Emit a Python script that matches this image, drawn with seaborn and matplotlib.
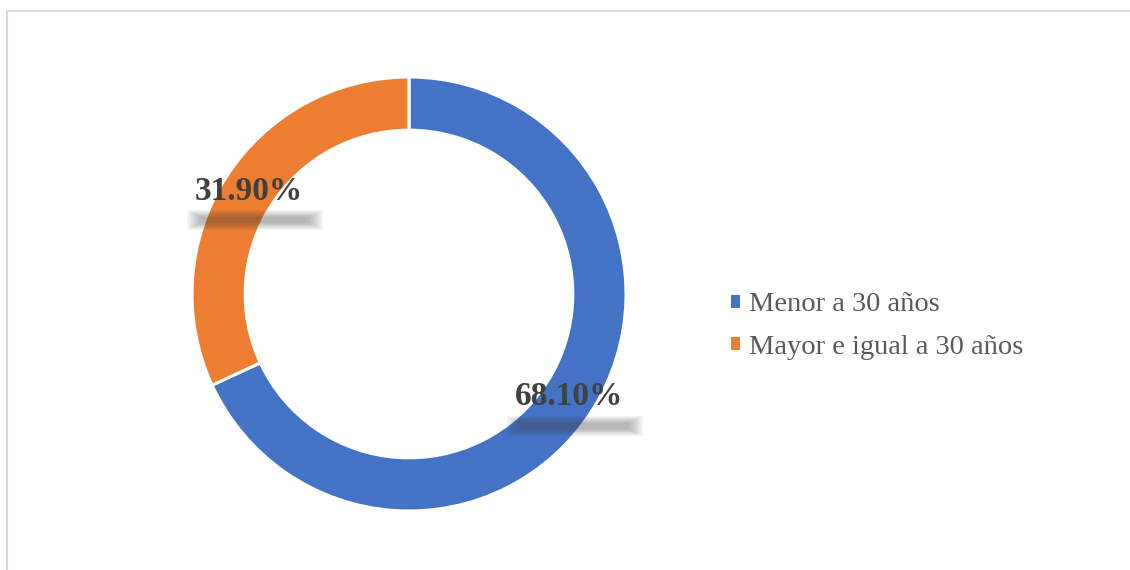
import numpy as np
import matplotlib
matplotlib.use("Agg")
import matplotlib.pyplot as plt
import matplotlib.transforms as mtransforms
from matplotlib.patches import Rectangle
from matplotlib.lines import Line2D
import seaborn as sns

categories = ["Menor a 30 años", "Mayor e igual a 30 años"]
shares = [68.10, 31.90]
colors = ["#4472C4", "#ED7D31"]

sns.set_theme(style="white")
plt.rcParams["font.family"] = ["Liberation Serif", "DejaVu Serif"]

W, H = 1130, 570
fig = plt.figure(figsize=(W / 100, H / 100), dpi=100)
fig.patch.set_facecolor("white")

# chart frame: only the top and left edges show in the original
fig.lines.append(Line2D([6.5 / W, 6.5 / W], [0, 1 - 10.5 / H], transform=fig.transFigure,
                        color="#D9D9D9", linewidth=1.5))
fig.lines.append(Line2D([6.5 / W, 1], [1 - 10.5 / H, 1 - 10.5 / H], transform=fig.transFigure,
                        color="#D9D9D9", linewidth=1.5))

cx, cy, R = 409, H - 294, 217
ax = fig.add_axes([(cx - R) / W, (cy - R) / H, 2 * R / W, 2 * R / H])
ring = 0.245
wedges, _ = ax.pie(shares, colors=colors, startangle=90, counterclock=False,
                   radius=1, wedgeprops=dict(width=ring, edgecolor="white", linewidth=2.2))
ax.set_xlim(-1, 1)
ax.set_ylim(-1, 1)
ax.set_aspect("equal")
ax.axis("off")

# data labels in the middle of the ring, with a soft shadow bar below
mid_r = 1 - ring / 2
for w, val in zip(wedges, shares):
    ang = np.deg2rad((w.theta1 + w.theta2) / 2)
    x, y = mid_r * np.cos(ang), mid_r * np.sin(ang)
    px, py = ax.transData.transform((x, y))
    for k in range(8):
        sw, sh = 136 - 4 * k, 20 - 2 * k
        ax.add_patch(Rectangle((px - sw / 2 + 6, py - 29 - sh / 2), sw, sh,
                               transform=mtransforms.IdentityTransform(),
                               facecolor="#404040", alpha=0.055, edgecolor="none",
                               zorder=3, clip_on=False))
    ax.text(x, y, f"{val:.2f}%", ha="center", va="center", fontsize=24,
            fontweight="bold", color="#404040", zorder=4)

leg = fig.legend(wedges, categories, loc="center left", bbox_to_anchor=(731 / W, 1 - 326 / H),
                 frameon=False, fontsize=20.5, handlelength=0.32, handleheight=0.32,
                 handletextpad=0.3, labelspacing=0.6, borderpad=0, borderaxespad=0)
for t in leg.get_texts():
    t.set_color("#595959")
for h in leg.legend_handles:
    h.set_linewidth(0)

fig.savefig("out.png", dpi=100, facecolor="white")
